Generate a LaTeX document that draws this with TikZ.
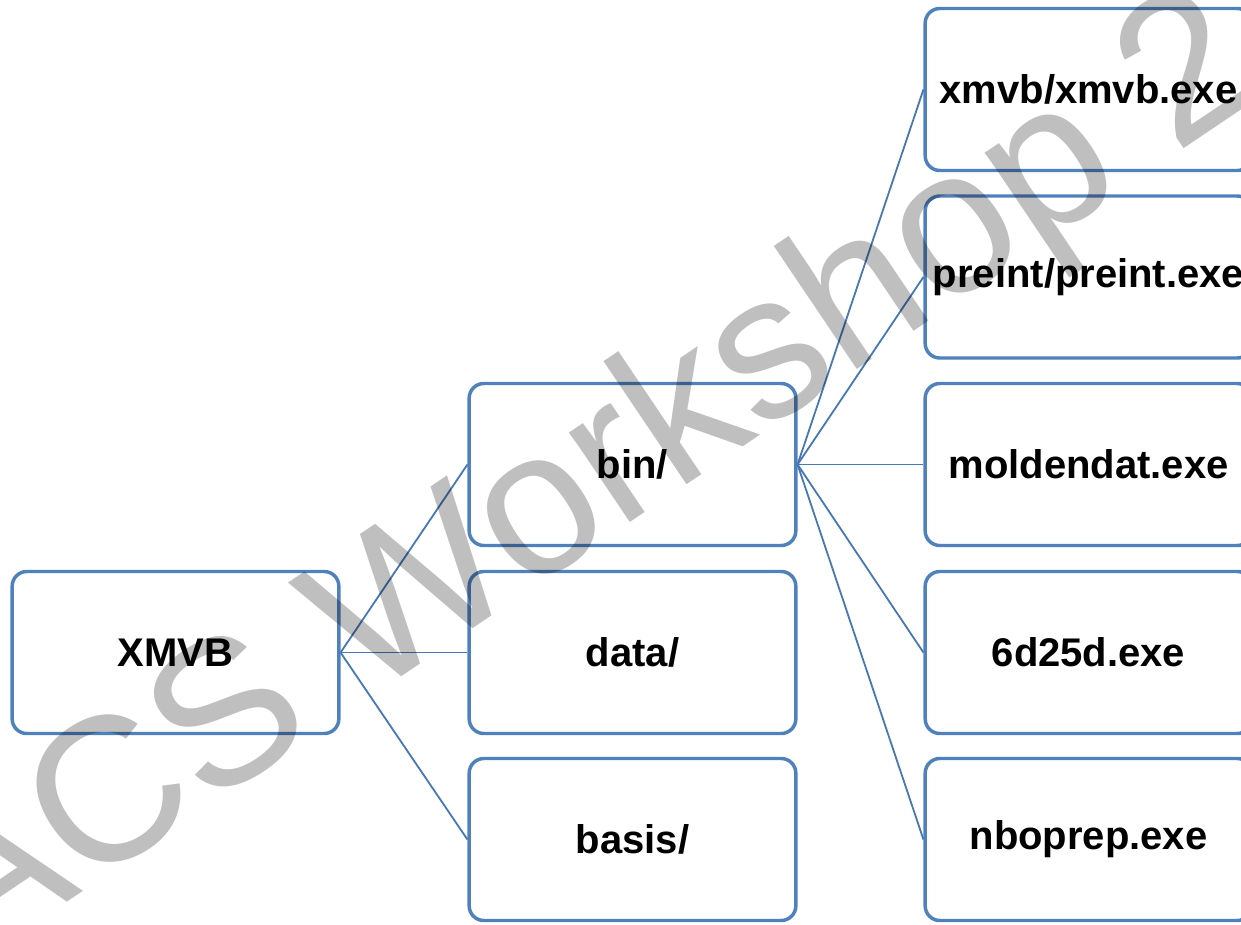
\documentclass[tikz,border=0pt]{standalone}
\usepackage{fontspec}
\setmainfont{Liberation Sans}
\definecolor{boxblue}{RGB}{79,129,189}
\definecolor{lineblue}{RGB}{70,120,180}
\begin{document}
\begin{tikzpicture}[x=0.75pt,y=-0.75pt,
  box/.style={draw=boxblue, line width=2.6pt, fill=white, rounded corners=11pt,
    minimum width=245pt, minimum height=121.5pt, inner sep=0pt,
    font=\fontsize{30pt}{36pt}\selectfont\bfseries, text=black},
  link/.style={draw=lineblue, line width=1.35pt},
  wm/.style={font=\fontsize{153.75pt}{170pt}\selectfont, text=black, text opacity=0.25,
    inner sep=0pt, anchor=base west, rotate=34}]
\useasboundingbox (0,0) rectangle (1241,924);
\clip (0,0) rectangle (1241,924);
\fill[white] (0,0) rectangle (1241,924);
% nodes
\node[box] (xmvb) at (175.5,652.5) {XMVB};
\node[box] (bin) at (632.5,464.5) {bin/};
\node[box] (data) at (632.5,652.5) {data/};
\node[box] (basis) at (632.5,839.5) {basis/};
\node[box] (xexe) at (1088.5,89.5) {xmvb/xmvb.exe};
\node[box] (pexe) at (1088.5,277) {preint/preint.exe};
\node[box] (mexe) at (1088.5,464.5) {moldendat.exe};
\node[box] (sexe) at (1088.5,652.5) {6d25d.exe};
\node[box] (nexe) at (1088.5,839.5) {nboprep.exe};
% connectors
\draw[link] (xmvb.east) -- (bin.west);
\draw[link] (xmvb.east) -- (data.west);
\draw[link] (xmvb.east) -- (basis.west);
\draw[link] (bin.east) -- (xexe.west);
\draw[link] (bin.east) -- (pexe.west);
\draw[link] (bin.east) -- (mexe.west);
\draw[link] (bin.east) -- (sexe.west);
\draw[link] (bin.east) -- (nexe.west);
% watermark
\node[wm] (wmark) at (-30,968) {ACS Workshop 2};
\end{tikzpicture}
\end{document}
